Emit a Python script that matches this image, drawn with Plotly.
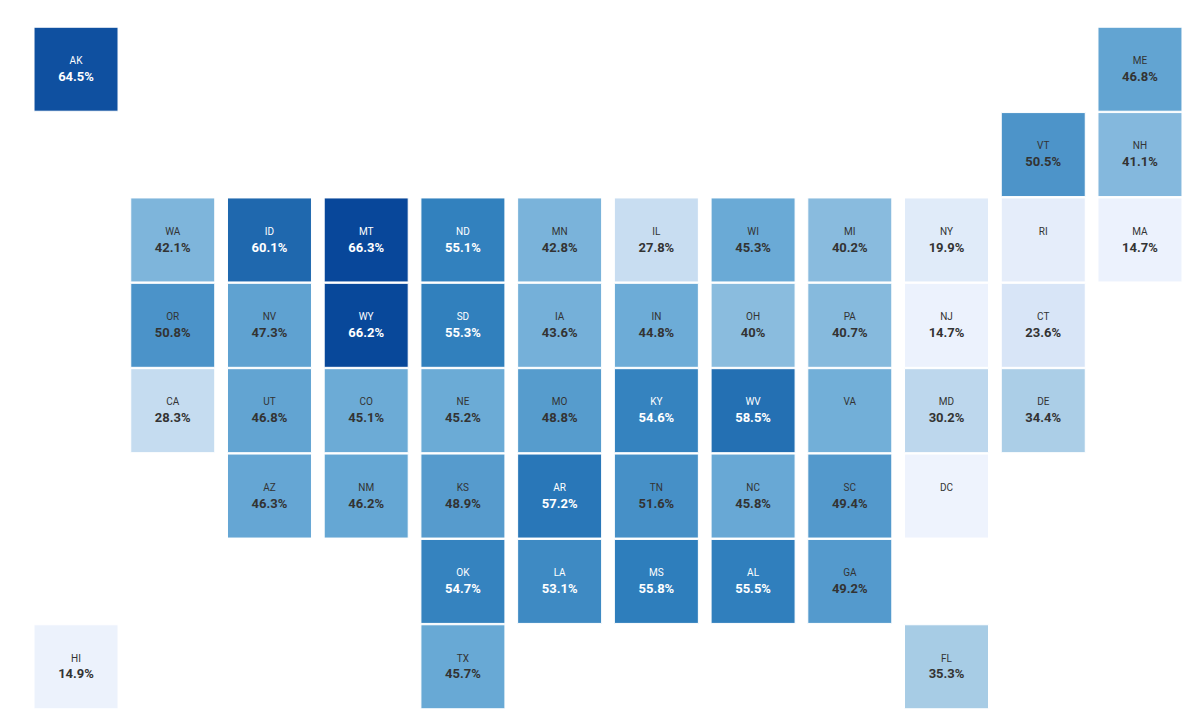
import plotly.graph_objects as go

# No state outlines are available offline (plotly fetches its topojson from
# the CDN), so the map is drawn as a US tile grid instead.

# state codes and share values (%)
states = ["WA", "OR", "CA", "NV", "ID", "MT", "WY", "UT", "AZ", "CO", "NM",
          "ND", "SD", "NE", "KS", "OK", "TX", "MN", "IA", "MO", "AR", "LA",
          "WI", "IL", "MI", "IN", "OH", "KY", "TN", "MS", "AL", "GA", "FL",
          "SC", "NC", "VA", "WV", "PA", "NY", "VT", "NH", "ME", "MA", "RI",
          "CT", "NJ", "DE", "MD", "DC", "AK", "HI"]
values = [42.1, 50.8, 28.3, 47.3, 60.1, 66.3, 66.2, 46.8, 46.3, 45.1, 46.2,
          55.1, 55.3, 45.2, 48.9, 54.7, 45.7, 42.8, 43.6, 48.8, 57.2, 53.1,
          45.3, 27.8, 40.2, 44.8, 40, 54.6, 51.6, 55.8, 55.5, 49.2, 35.3,
          49.4, 45.8, 44.0, 58.5, 40.7, 19.9, 50.5, 41.1, 46.8, 14.7, 18.0,
          23.6, 14.7, 34.4, 30.2, 14.0, 64.5, 14.9]

# states shown without a value on the reference map
unlabeled = ["VA", "RI", "DC"]

# tile grid layout (column, row)
grid = {
    "AK": (0, 0), "ME": (11, 0),
    "VT": (10, 1), "NH": (11, 1),
    "WA": (1, 2), "ID": (2, 2), "MT": (3, 2), "ND": (4, 2), "MN": (5, 2),
    "IL": (6, 2), "WI": (7, 2), "MI": (8, 2), "NY": (9, 2), "RI": (10, 2),
    "MA": (11, 2),
    "OR": (1, 3), "NV": (2, 3), "WY": (3, 3), "SD": (4, 3), "IA": (5, 3),
    "IN": (6, 3), "OH": (7, 3), "PA": (8, 3), "NJ": (9, 3), "CT": (10, 3),
    "CA": (1, 4), "UT": (2, 4), "CO": (3, 4), "NE": (4, 4), "MO": (5, 4),
    "KY": (6, 4), "WV": (7, 4), "VA": (8, 4), "MD": (9, 4), "DE": (10, 4),
    "AZ": (2, 5), "NM": (3, 5), "KS": (4, 5), "AR": (5, 5), "TN": (6, 5),
    "NC": (7, 5), "SC": (8, 5), "DC": (9, 5),
    "OK": (4, 6), "LA": (5, 6), "MS": (6, 6), "AL": (7, 6), "GA": (8, 6),
    "HI": (0, 7), "TX": (4, 7), "FL": (9, 7),
}

xs = [grid[s][0] for s in states]
ys = [grid[s][1] for s in states]
labels = []
colors = []
for s, v in zip(states, values):
    val = "" if s in unlabeled else f"<b>{v:g}%</b>"
    labels.append(f"<span style='font-size:10px'>{s}</span><br>{val}")
    colors.append("white" if v >= 53 else "#333333")

scale = [[0, "#eef3fd"], [0.2, "#d6e4f6"], [0.4, "#a9cde6"], [0.6, "#6aaad6"],
         [0.8, "#2e7ebc"], [1, "#08479a"]]

fig = go.Figure()
fig.add_trace(go.Scatter(
    x=xs, y=ys, mode="markers+text", text=labels,
    marker=dict(symbol="square", size=84, color=values, colorscale=scale,
                cmin=14, cmax=66.3, line=dict(color="white", width=1)),
    textfont=dict(family="Roboto", size=13, color=colors),
    hovertext=states, hoverinfo="text",
))
fig.update_xaxes(visible=False, range=[-0.6, 11.6])
fig.update_yaxes(visible=False, range=[7.6, -0.6])
fig.update_layout(width=1200, height=720, margin=dict(l=10, r=10, t=10, b=10),
                  paper_bgcolor="white", plot_bgcolor="white", showlegend=False)
fig.write_html("out.html")
